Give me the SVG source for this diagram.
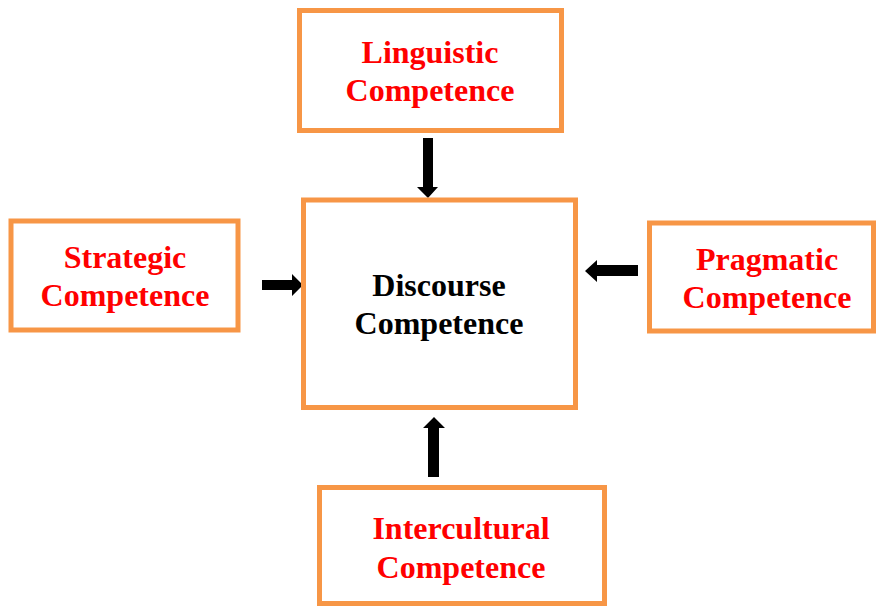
<svg xmlns="http://www.w3.org/2000/svg" width="876" height="607" viewBox="0 0 876 607">
<style>
.box{fill:#fff;stroke:#f79646;stroke-width:5}
.t{font-family:"Liberation Serif","Times New Roman",serif;font-weight:bold;font-size:32px;text-anchor:middle}
.red{fill:#ff0000}
.blk{fill:#000}
.arr{fill:#000}
</style>
<rect width="876" height="607" fill="#fff"/>
<g id="connectors">
<polygon class="arr" points="423,138 433,138 433,187 438,187 428,198 417,187 423,187"/>
<polygon class="arr" points="262,280 292,280 292,274 303,285 292,296 292,290 262,290"/>
<polygon class="arr" points="638,265 597,265 597,260 585,271 597,282 597,276 638,276"/>
<polygon class="arr" points="428,477 439,477 439,428 445,428 434,417 423,428 428,428"/>
</g>
<g id="discourse">
<rect class="box" x="303.5" y="200" width="272" height="207.5"/>
<text class="t blk" x="439" y="296">Discourse</text>
<text class="t blk" x="439" y="334">Competence</text>
</g>
<g id="linguistic">
<rect class="box" x="299.5" y="10.5" width="262" height="120"/>
<text class="t red" x="430" y="63">Linguistic</text>
<text class="t red" x="430" y="101">Competence</text>
</g>
<g id="strategic">
<rect class="box" x="11" y="221" width="227" height="109"/>
<text class="t red" x="125" y="268">Strategic</text>
<text class="t red" x="125" y="306">Competence</text>
</g>
<g id="pragmatic">
<rect class="box" x="649.5" y="223" width="224" height="108"/>
<text class="t red" x="767" y="270">Pragmatic</text>
<text class="t red" x="767" y="308">Competence</text>
</g>
<g id="intercultural">
<rect class="box" x="319.5" y="487.5" width="285" height="116"/>
<text class="t red" x="461" y="539">Intercultural</text>
<text class="t red" x="461" y="578">Competence</text>
</g>
</svg>
